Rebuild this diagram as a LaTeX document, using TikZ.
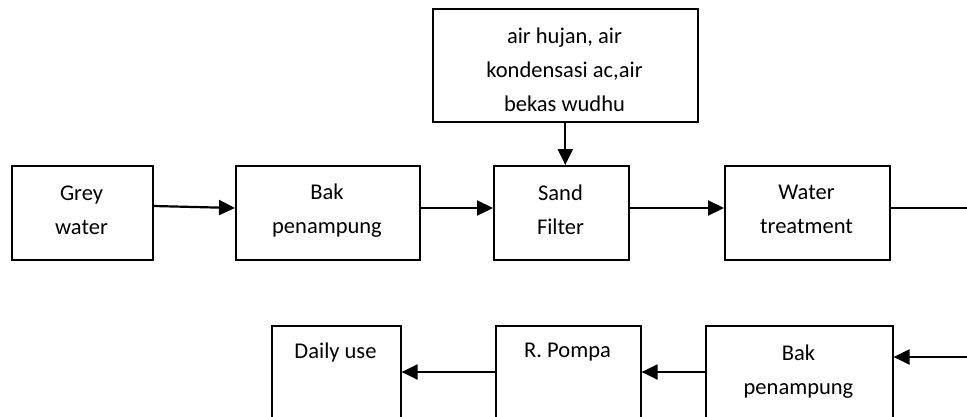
\documentclass[tikz,border=0pt]{standalone}
\usepackage{fontspec}
\setmainfont{Carlito}
\usetikzlibrary{arrows.meta,calc}
\begin{document}
\begin{tikzpicture}[x=1pt,y=-1pt,
  box/.style={draw,line width=1.6pt,rectangle,inner sep=0pt,anchor=north west},
  lbl/.style={font=\fontsize{22.5}{34}\selectfont,align=center,inner sep=0pt},
  flow/.style={line width=2.2pt,-{Triangle[length=16pt,width=15pt]}},
  thin/.style={line width=1.3pt}]
\useasboundingbox (0,0) rectangle (967,416);
\clip (0,0) rectangle (967,416);
% top row boxes
\node[box,minimum width=265pt,minimum height=113pt] (src) at (432,8) {};
\node[box,minimum width=141pt,minimum height=94pt] (gw) at (11,165) {};
\node[box,minimum width=184pt,minimum height=94pt] (bp1) at (235,165) {};
\node[box,minimum width=135pt,minimum height=94pt] (sf) at (493,165) {};
\node[box,minimum width=165pt,minimum height=94pt] (wt) at (724,165) {};
% bottom row boxes
\node[box,minimum width=129pt,minimum height=110pt] (du) at (271,325) {};
\node[box,minimum width=145pt,minimum height=110pt] (rp) at (495,325) {};
\node[box,minimum width=187pt,minimum height=110pt] (bp2) at (705,325) {};
% labels
\node[lbl] (tsrc) at (564.5,70) {air hujan, air\\kondensasi ac,air\\bekas wudhu};
\node[lbl] (tgw) at (81.5,210.5) {Grey\\water};
\node[lbl] (tbp1) at (327,210.5) {Bak\\penampung};
\node[lbl] (tsf) at (560.5,209.5) {Sand\\Filter};
\node[lbl] (twt) at (806.5,209.5) {Water\\treatment};
\node[lbl] (tdu) at (335.5,352) {Daily use};
\node[lbl] (trp) at (567.5,352) {R. Pompa};
\node[lbl] (tbp2) at (798.5,371.5) {Bak\\penampung};
% free ends off the right edge
\coordinate (outR) at (985,208);
\coordinate (inR) at (985,357);
% connectors
\draw[flow] ($(gw.north east)+(0,41)$) -- ($(bp1.north west)+(0,43)$);
\draw[flow] ($(bp1.north east)+(0,43)$) -- ($(sf.north west)+(0,43)$);
\draw[flow] ($(sf.north east)+(0,43)$) -- ($(wt.north west)+(0,43)$);
\draw[flow] (src.south) -- (src.south |- sf.north);
\draw[thin] ($(wt.north east)+(0,43)$) -- (outR);
\draw[flow] (inR) -- ($(bp2.north east)+(0,32)$);
\draw[flow] ($(bp2.north west)+(0,47)$) -- ($(rp.north east)+(0,47)$);
\draw[flow] ($(rp.north west)+(0,47)$) -- ($(du.north east)+(0,47)$);
\end{tikzpicture}
\end{document}
